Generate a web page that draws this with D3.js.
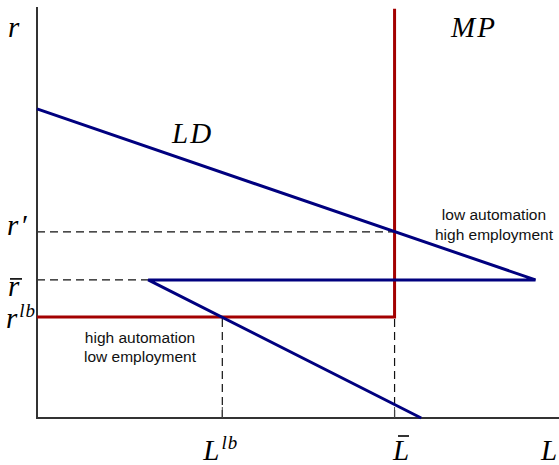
<!DOCTYPE html>
<html>
<head>
<meta charset="utf-8">
<script src="https://cdn.jsdelivr.net/npm/d3@7"></script>
<style>
  body { margin: 0; background: #fff; }
  .math { font-family: "Liberation Serif", "DejaVu Serif", serif; font-style: italic; font-size: 29px; fill: #000; letter-spacing: 2px; }
  .note { font-family: "Liberation Sans", Arial, sans-serif; font-size: 15.5px; fill: #111; }
</style>
</head>
<body>
<div id="chart"></div>
<script>
// values in model units (L on x, r on y, both 0..100)
var rPrime = 45.3,
    rBar   = 33.6,
    rLb    = 24.6,
    rTop   = 99.6;

var lLb   = 35.5,
    lBar  = 68.5,
    lMax  = 95.5,
    lKink = 21.3,
    lEnd  = 73.6;

// labour demand: upper line, then back along r-bar and down
var ldPoints = [[0, 75.2], [lMax, rBar], [lKink, rBar], [lEnd, 0]];
// monetary policy: floor at r-lb up to L-bar then vertical
var mpPoints = [[0, rLb], [lBar, rLb], [lBar, rTop]];

var dashedLines = [
	[[0, rPrime], [lBar, rPrime]],
	[[0, rBar], [lKink, rBar]],
	[[lLb, 0], [lLb, rLb]],
	[[lBar, 0], [lBar, rLb]]
];

var xTicks = [lLb, lBar];

var w = 559, h = 465;

var x = d3.scaleLinear().domain([0, 100]).range([37, 559]);
var y = d3.scaleLinear().domain([0, 100]).range([418, 7]);

var line = d3.line()
	.x(function(d) { return x(d[0]); })
	.y(function(d) { return y(d[1]); });

var svg = d3.select("#chart").append("svg")
	.attr("width", w)
	.attr("height", h);

// dashed guides
svg.selectAll(".guide")
	.data(dashedLines)
	.enter()
	.append("path")
	.attr("class", "guide")
	.attr("d", line)
	.attr("fill", "none")
	.attr("stroke", "#111")
	.attr("stroke-width", 1.2)
	.attr("stroke-dasharray", "8,5");

// axes
svg.append("path")
	.attr("d", line([[0, 100], [0, 0], [100, 0]]))
	.attr("fill", "none")
	.attr("stroke", "#333")
	.attr("stroke-width", 2);

svg.selectAll(".tick")
	.data(xTicks)
	.enter()
	.append("line")
	.attr("class", "tick")
	.attr("x1", function(d) { return x(d); })
	.attr("x2", function(d) { return x(d); })
	.attr("y1", y(0))
	.attr("y2", y(0) - 11)
	.attr("stroke", "#444")
	.attr("stroke-width", 1);

// MP curve
svg.append("path")
	.attr("d", line(mpPoints))
	.attr("fill", "none")
	.attr("stroke", "#a30000")
	.attr("stroke-width", 3);

// LD curve
svg.append("path")
	.attr("d", line(ldPoints))
	.attr("fill", "none")
	.attr("stroke", "#00007f")
	.attr("stroke-width", 3)
	.attr("stroke-linejoin", "miter");

// math labels
function mathLabel(px, py, main, sup, anchor) {
	var t = svg.append("text")
		.attr("class", "math")
		.attr("x", px)
		.attr("y", py)
		.attr("text-anchor", anchor || "start");
	t.append("tspan").text(main);
	if (sup) {
		t.append("tspan")
			.attr("dy", -11)
			.style("font-size", "19px")
			.style("letter-spacing", "1px")
			.text(sup);
	}
	return t;
}

function bar(x1, x2, yy) {
	svg.append("line")
		.attr("x1", x1).attr("x2", x2)
		.attr("y1", yy).attr("y2", yy)
		.attr("stroke", "#000").attr("stroke-width", 1.6);
}

mathLabel(8, 37, "r");
mathLabel(7, y(rPrime) + 3, "r\u2032");
mathLabel(8, y(rBar) + 16, "r");
bar(10, 22, y(rBar) - 1);
mathLabel(6, y(rLb) + 11, "r", "lb");

mathLabel(x(lLb) - 19, 460, "L", "lb");
mathLabel(393, 460, "L");
bar(398, 409, 436);
mathLabel(541, 460, "L");

mathLabel(172, 143, "LD");
mathLabel(451, 37, "MP");

// notes
svg.append("text").attr("class", "note")
	.attr("x", 494).attr("y", 220).attr("text-anchor", "middle")
	.text("low automation");
svg.append("text").attr("class", "note")
	.attr("x", 494).attr("y", 240).attr("text-anchor", "middle")
	.text("high employment");
svg.append("text").attr("class", "note")
	.attr("x", 140).attr("y", 343).attr("text-anchor", "middle")
	.text("high automation");
svg.append("text").attr("class", "note")
	.attr("x", 140).attr("y", 362).attr("text-anchor", "middle")
	.text("low employment");
</script>
</body>
</html>
